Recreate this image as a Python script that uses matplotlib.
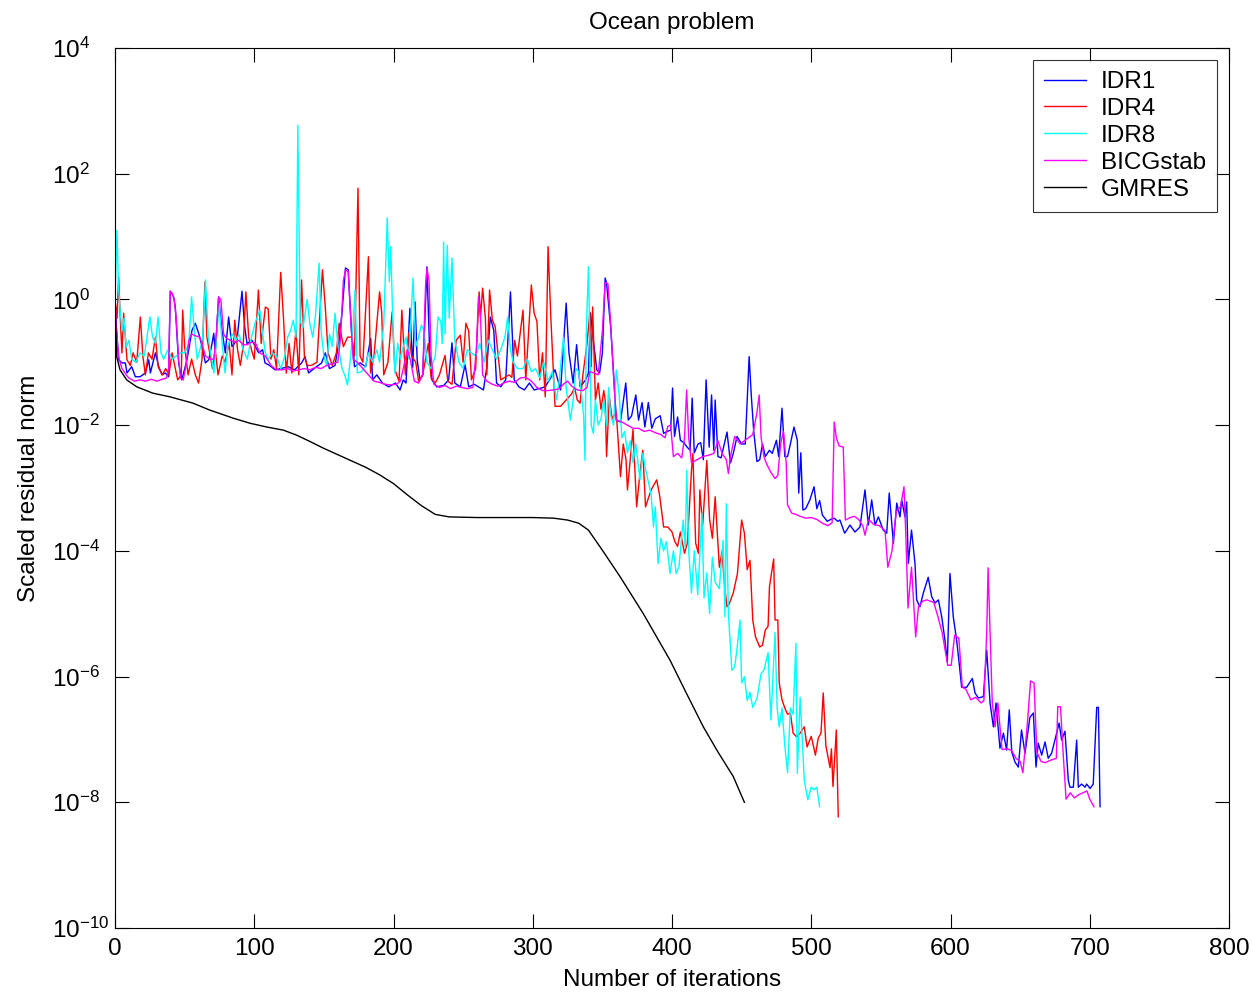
import numpy as np
import matplotlib
matplotlib.use("Agg")
import matplotlib.pyplot as plt

# valori: (iterazione, log10 del residuo scalato)
idr1 = [(0, 0.0), (1, -0.45), (2.6, -0.96), (5, -1.01), (7.4, -1.01), (8.6, -1.17), (12, -1.07), (14.6, -1.23),
        (18, -1.23), (21.8, -1.17), (24.2, -0.96), (25.4, -1.17), (29, -0.85), (31.4, -1.07), (33.8, -1.2),
        (36.1, -1.17), (38.5, -1.23), (39.7, 0.13), (42.1, 0.04), (43.3, -0.12), (45.7, -1.01), (48, -1.28),
        (51.7, -0.96), (55.3, -0.49), (57.7, -0.38), (60.1, -0.54), (62.5, -0.75), (64.9, -1.01), (67.3, -0.96),
        (69.7, -0.7), (70.9, -0.54), (72, -0.85), (74.4, 0.04), (76.8, -0.49), (79.2, -0.85), (81.6, -0.28),
        (84, -0.75), (87.6, -0.65), (91.2, 0.13), (93.1, -0.43), (94.8, -0.7), (98.4, -0.65), (103.2, -0.85),
        (106, -0.8), (107.7, -1.01), (111, -1.05), (115, -1.12), (119, -1.1), (124.4, -1.07), (129, -1.12),
        (134, -1.01), (136.5, -0.91), (139, -1.17), (143, -1.1), (148.4, -1.01), (151, -0.85), (154, -1.1),
        (158, -1.05), (161, -0.65), (163, -0.22), (165.5, 0.5), (167.5, 0.47), (169.8, -0.49), (172, -1.07),
        (176, -1.01), (180, -1.07), (183.6, -0.62), (185, -1.28), (188, -1.2), (192, -1.33), (196.6, -1.39),
        (201.4, -1.33), (204.7, -1.44), (207, -1.28), (209, -1.33), (211.8, -0.14), (213.8, -1.08), (215.5, -0.04),
        (217, -0.96), (219, -1.28), (221, -1.2), (224, 0.52), (226, -0.85), (227.6, -1.28), (231, -1.39),
        (236, -1.37), (239.6, -1.28), (242, -0.69), (244, -1.33), (248, -1.39), (251.4, -1.04), (254, -1.39),
        (258, -1.35), (261, -1.39), (264.6, -1.44), (267, -1.08), (269.5, -0.28), (272, -0.49), (274, -1.33),
        (277, -1.39), (280.6, -1.28), (284, 0.12), (286.7, -1.28), (290, -1.39), (294, -1.44), (297.6, -1.33),
        (301, -1.44), (306, -1.41), (309, -1.39), (312, -1.28), (316, -1.12), (320, -1.44), (324, -0.06),
        (326, -0.85), (329, -1.33), (331.5, -0.72), (334, -1.39), (338, -1.28), (340, -1.17), (341.5, -0.22),
        (343.5, -0.65), (346, -1.12), (348, -1.17), (350, -0.85), (352, 0.34), (353, 0.26), (356, -0.45),
        (358, -1.17), (360, -1.92), (363, -1.95), (366.8, -1.33), (368.6, -1.92), (371, -1.85), (374, -1.52),
        (376, -1.92), (378.5, -1.64), (380.5, -2.03), (383, -1.64), (385.5, -2.05), (388, -1.9), (391.5, -1.85),
        (394, -2.13), (396.5, -2.1), (399, -2.08), (400.4, -1.41), (401.8, -2.18), (404, -1.87), (406, -2.24),
        (408.5, -2.28), (410.9, -2.35), (413, -2.4), (414.5, -1.57), (416, -2.44), (418.7, -2.3), (420.6, -2.28),
        (422.5, -2.55), (424.5, -1.28), (426.7, -2.35), (428.4, -1.52), (430, -2.4), (431, -1.6), (433, -2.5),
        (435.3, -2.52), (439.5, -2.11), (442, -2.6), (444, -2.45), (446.7, -2.18), (450, -2.3), (452.6, -2.3),
        (455.4, -0.91), (457, -1.55), (458.7, -2.1), (461, -2.58), (463, -2.55), (465, -2.3), (467, -2.5),
        (470, -2.4), (472, -2.45), (475, -2.24), (476.6, -2.5), (479, -1.73), (481, -2.5), (483, -2.5),
        (485, -2.3), (487.6, -2.03), (490, -2.24), (491, -3.08), (492.5, -2.44), (494, -3.35), (496, -3.33),
        (499, -3.19), (502, -2.98), (504, -3.33), (506, -3.2), (508, -3.43), (511.5, -3.53), (514, -3.5),
        (516.5, -3.48), (519, -3.53), (520.6, -3.51), (524, -3.72), (527.8, -3.59), (531.4, -3.7), (535, -3.62),
        (538.6, -3.03), (541, -3.59), (543.4, -3.19), (545.8, -3.59), (548.2, -3.46), (551.7, -3.67),
        (554.2, -3.72), (556, -3.08), (559, -3.88), (561.4, -3.24), (563.7, -3.46), (565, -3.19), (567.3, -3.46),
        (568.5, -3.22), (569.7, -4.2), (572, -3.67), (574.5, -4.2), (575.7, -4.78), (578, -4.89), (580.5, -4.67),
        (584, -4.42), (586.5, -4.73), (588.9, -4.83), (591.3, -4.78), (593.7, -5.05), (596, -5.42), (597.7, -5.77),
        (599.6, -4.36), (602, -5.05), (604.4, -5.42), (606, -5.74), (608, -6.17), (611.6, -6.17), (615.7, -6.03),
        (617.6, -6.26), (620, -6.34), (623.6, -6.32), (626, -5.58), (628.4, -6.42), (630.8, -6.8), (632.7, -6.42),
        (634.3, -6.82), (635.5, -7.14), (638, -6.9), (640.3, -7.17), (642.2, -6.53), (644, -7.2), (646.3, -7.36),
        (648.7, -7.44), (651, -6.85), (653.5, -7.22), (657, -6.65), (659.5, -6.58), (661.4, -7.44), (663, -7.06),
        (665.5, -7.25), (667.9, -7.04), (670.2, -7.3), (672.6, -7.22), (675, -7.01), (678, -6.74), (679.8, -7.01),
        (682.2, -6.87), (684.6, -7.65), (685.8, -7.76), (688.2, -7.76), (690.6, -7.01), (691.8, -7.76),
        (694.2, -7.71), (696.6, -7.76), (697.8, -7.71), (700.2, -7.78), (702.5, -7.71), (705, -6.49),
        (706.2, -6.49), (707.4, -8.07)]

idr4 = [(0, 0.0), (1.5, -0.3), (2.6, 0.36), (4, -0.4), (5, -0.85), (6.2, -0.22), (8.6, -0.96), (11, -1.05),
        (13, -0.85), (15.6, -1.0), (18.2, -0.28), (20, -0.9), (21.8, -1.2), (24, -0.85), (26.6, -0.95), (29, -0.6),
        (31, -1.07), (34, -1.2), (36.4, -1.1), (38.7, -1.2), (41, -0.85), (45, -1.28), (47.6, -1.2), (48.6, -0.17),
        (50, -0.75), (52.5, -1.2), (55, -0.95), (57.7, -1.2), (60, -1.33), (62.5, -0.95), (64.6, 0.28), (66, -0.6),
        (68, -0.85), (70, -1.1), (72, -0.8), (74, -1.2), (77, -0.9), (79, -1.0), (82, -0.7), (84, -1.2),
        (86, -0.33), (88, -0.8), (90, -1.05), (92, -0.75), (94, 0.12), (96, -0.6), (98, -0.8), (100, -0.95),
        (103, 0.15), (105, -0.7), (108, -0.12), (110, -0.15), (112, -0.95), (114, -0.8), (116, -1.1), (119, 0.43),
        (121, -0.3), (123, -1.17), (125, -0.7), (127, -1.17), (130, -0.49), (132, -1.2), (134, 0.31), (136, -0.9),
        (138, -1.05), (141, -1.05), (145, -1.0), (149, 0.47), (151, -0.12), (153, -0.85), (156, -1.05),
        (159, -0.85), (161, -0.38), (164, -0.75), (167, -0.6), (170, -0.6), (172, -0.9), (174.5, 1.77),
        (176, -0.9), (178, -1.0), (182, 0.68), (183.5, -1.17), (186, -0.9), (190, 0.12), (191.5, -0.2),
        (193, -1.2), (196, -1.0), (199, -0.2), (201, -1.12), (204, -1.3), (206, -0.17), (208.5, -1.2),
        (211, -0.53), (213, -0.9), (216, -1.0), (218, -1.3), (221, -1.2), (225, -0.7), (227, -1.25), (230, -1.33),
        (233, -1.2), (237, -0.89), (239, -1.3), (242, -1.35), (245, -0.65), (248, -0.57), (250, -1.0),
        (252, -0.38), (254, -0.5), (256, -1.28), (259, -1.1), (261.5, 0.12), (262.5, -0.28), (264, 0.18),
        (266, -0.3), (267, -1.2), (269, 0.15), (271, -0.33), (273, -0.43), (275, -0.85), (277, -1.28),
        (280, -1.24), (283, -1.2), (285, -1.24), (287, -0.65), (289, -0.9), (293, -0.17), (295, -1.28),
        (299, 0.23), (301, -0.22), (303, -0.35), (305, -1.28), (307, -0.85), (309, -1.55), (311, 0.84),
        (313, -0.3), (316, -1.7), (320, -1.7), (324, -1.6), (328, -1.5), (330, -1.4), (332, -1.6), (334, -1.65),
        (336, -1.2), (339, -0.7), (341, -0.2), (342, -1.07), (343, -0.12), (345, -1.6), (347, -1.33),
        (349, -1.75), (351, -1.45), (352, -1.6), (353, -2.5), (355, -1.55), (357, -1.9), (360, -1.8),
        (363, -2.82), (365, -2.3), (367, -2.55), (368, -3.03), (372, -2.07), (374.6, -3.3), (377, -2.76),
        (379, -2.4), (381, -3.3), (385, -3.03), (389, -2.87), (391, -3.1), (394, -3.62), (397, -3.62),
        (400, -3.7), (402, -3.85), (404, -3.93), (406, -3.7), (409, -4.04), (411, -3.88), (414, -2.72),
        (415, -2.45), (417, -3.88), (419, -4.04), (420, -3.03), (422, -3.6), (425, -2.56), (427, -3.5),
        (429, -3.8), (431, -3.14), (434, -4.26), (436, -4.0), (437, -4.35), (438, -4.6), (439.5, -4.89),
        (441, -4.85), (444, -4.67), (447, -4.36), (450, -3.51), (452, -3.72), (454, -4.3), (456, -4.15),
        (458, -5.1), (460, -5.37), (463, -5.53), (465, -5.5), (467, -5.26), (469, -5.2), (470, -4.57),
        (473, -4.13), (474, -5.1), (476, -5.1), (477, -6.1), (479, -6.37), (481, -6.5), (483, -6.6),
        (485, -6.58), (487, -6.9), (489.5, -6.96), (492, -6.9), (495, -6.8), (497, -7.12), (500, -6.95),
        (503, -7.25), (505, -6.98), (507, -6.9), (508.6, -6.26), (510.5, -7.1), (513.5, -7.45), (514.5, -7.15),
        (515.6, -7.75), (518, -6.85), (519.4, -8.23)]

idr8 = [(0, 0.0), (1.4, 1.1), (2.5, 0.2), (3.5, -0.12), (5, -0.5), (6.5, -0.3), (8, -0.76), (10, -0.65),
        (12, -0.95), (15, -1.0), (18, -0.85), (21, -0.9), (23, -0.6), (25, -0.28), (27, -0.6), (29, -0.7),
        (31, -0.28), (33, -0.85), (35, -0.95), (38, -0.8), (41, -0.95), (44, -0.9), (47, -0.85), (50, -0.85),
        (53, -0.7), (55, 0.04), (57, -0.5), (59, -0.95), (61, -0.8), (63, -0.6), (65, 0.31), (67, -0.6),
        (69, -0.9), (71, -1.17), (73, -0.6), (74.7, -0.06), (77, -0.7), (79, -1.17), (81, -0.75), (84, -0.55),
        (87, -0.65), (89, -0.55), (92, -0.8), (95, -0.95), (98, -0.6), (101, -0.35), (104, -0.17), (106, -0.55),
        (108, -0.85), (110, -0.96), (113, -0.85), (116, -0.9), (119, -1.1), (122, -0.9), (124, -0.6),
        (126, -0.5), (128, -0.33), (130, -0.6), (131.3, 2.77), (133, -0.35), (135, -0.45), (138, 0.0),
        (140, -0.4), (142, -0.6), (144, -0.25), (146.6, 0.58), (148, -0.5), (150, -0.9), (152, -1.05),
        (154, -0.55), (156, -0.75), (158, -0.22), (160, -0.7), (163, -1.1), (165, -1.2), (167, -1.36),
        (169, -0.95), (170.5, -0.6), (172.4, 0.15), (174, -1.17), (177, -1.15), (180, -1.05), (182, -0.85),
        (185, -1.0), (188, -0.8), (190, -1.0), (193, -0.4), (195.5, 1.3), (197, 0.28), (198, 0.84),
        (199.5, -0.35), (201, -1.17), (203, -0.7), (205, -0.95), (207, -0.75), (209, -0.6), (211, -0.95),
        (214, 0.34), (216, -0.75), (218, -0.6), (220, -0.41), (222, -0.5), (224, -1.0), (227, -1.1), (230, -0.9),
        (232, -0.28), (234, -0.35), (235, -0.7), (236, 0.91), (237, -0.55), (238.6, 0.86), (240, -0.3),
        (242, 0.66), (244, -0.65), (247, -1.0), (250, -1.1), (253, -0.8), (256, -0.85), (259, -0.9), (262, -0.7),
        (265, -1.0), (268, -0.65), (271, -0.8), (274, -0.95), (277, -0.8), (280, -0.6), (282, -0.28),
        (284, -0.8), (286, -1.0), (289, -1.1), (293, -1.1), (296, -0.95), (299, -1.15), (302, -1.1),
        (305, -1.25), (308, -1.0), (311, -1.3), (314, -1.15), (317, -1.6), (319, -1.3), (322, -0.6), (324, -1.4),
        (327, -1.92), (329, -1.6), (331, -1.1), (333, -1.15), (335, -1.5), (336.5, -1.85), (337.5, -2.56),
        (338.5, -0.5), (340, 0.52), (341, -0.6), (342, -2.0), (343.5, -2.13), (345, -1.6), (347, -2.0),
        (349, -1.9), (351, -1.6), (353, -2.0), (354.5, -1.4), (356, -1.85), (358, -2.0), (360, -1.12),
        (362, -1.5), (364, -2.2), (366, -2.1), (368, -2.44), (370, -2.25), (372, -2.6), (374, -2.3),
        (377, -2.87), (379, -2.45), (381, -2.7), (383, -2.9), (385, -3.1), (386.7, -3.62), (388, -3.3),
        (390, -4.2), (392, -3.8), (394, -4.0), (396, -3.85), (398.6, -4.36), (401, -4.0), (403, -4.36),
        (405, -4.25), (408, -3.51), (409.5, -3.95), (410.6, -2.72), (412, -4.0), (414, -4.67), (416, -4.0),
        (418.5, -4.7), (421.5, -3.4), (423, -4.75), (425, -4.35), (427, -5.0), (429, -4.1), (431, -4.5),
        (434, -4.6), (436.7, -3.83), (438, -5.05), (439, -3.25), (440.5, -5.0), (443, -5.9), (445, -5.85),
        (447, -5.5), (448.8, -5.1), (450, -6.1), (452, -6.0), (454, -6.38), (456, -6.25), (458, -6.49),
        (461, -6.35), (464, -5.95), (466, -5.9), (469, -5.62), (471, -6.69), (474, -5.3), (475.5, -6.5),
        (477, -6.8), (479, -6.5), (481, -7.1), (483, -7.53), (485, -6.5), (487, -6.6), (489, -5.47),
        (490, -7.54), (492, -6.33), (495, -7.65), (497.5, -7.96), (500, -7.76), (502, -7.8), (504, -7.76),
        (506, -8.07)]

bicgstab = [(0, 0.0), (1, -0.45), (2, -0.75), (3, -0.95), (5, -1.1), (8, -1.2), (10, -1.25), (14, -1.3),
            (18, -1.28), (22, -1.3), (26, -1.27), (30, -1.3), (34, -1.27), (37, -1.25), (38.5, -1.1), (39.7, 0.13),
            (41, 0.1), (42.5, 0.0), (44, -0.3), (45.5, -0.9), (47, -1.25), (49, -1.28), (51, -1.05), (53, -0.65),
            (55, -0.55), (58, -0.58), (61, -0.6), (63, -0.75), (65, -0.9), (68, -0.95), (71, -0.95), (73, -0.5),
            (74.4, 0.04), (76, 0.0), (78, -0.55), (80, -0.62), (83, -0.65), (86, -0.68), (89, -0.65), (92, -0.72),
            (95, -0.72), (98, -0.68), (101, -0.7), (104, -0.85), (108, -0.9), (112, -1.05), (116, -1.12),
            (120, -1.12), (124, -1.1), (128, -1.14), (132, -1.12), (136, -1.1), (140, -1.12), (144, -1.08),
            (148, -1.1), (152, -1.05), (156, -1.02), (160, -1.0), (162, -0.6), (164, 0.3), (165.5, 0.47),
            (167.5, 0.44), (169, -0.2), (171, -0.95), (174, -1.0), (178, -1.1), (182, -1.2), (186, -1.3),
            (190, -1.32), (194, -1.35), (198, -1.36), (202, -1.35), (205, -1.3), (208, -1.0), (210, -0.8),
            (212, -0.95), (215, -1.3), (218, -1.33), (221, -1.2), (223, 0.2), (224, 0.5), (225.5, 0.3),
            (227, -0.9), (229, -1.35), (233, -1.4), (237, -1.37), (241, -1.42), (245, -1.38), (249, -1.4),
            (253, -1.42), (257, -1.4), (259.5, -0.8), (261, 0.04), (262.5, -0.3), (264, -1.2), (267, -1.3),
            (271, -1.35), (275, -1.38), (279, -1.33), (283, -1.3), (287, -1.32), (291, -1.25), (295, -1.24),
            (299, -1.3), (303, -1.4), (307, -1.45), (311, -1.45), (315, -1.44), (319, -1.42), (322, -1.35),
            (325, -1.3), (328, -1.38), (332, -1.44), (336, -1.45), (339, -1.4), (341, -1.15), (344, -1.17),
            (347, -1.2), (350, -0.5), (352, 0.27), (354, 0.25), (356, -0.4), (358, -1.2), (360, -1.92),
            (364, -1.95), (368, -2.0), (372, -2.05), (376, -2.05), (380, -2.1), (384, -2.08), (388, -2.12),
            (392, -2.15), (395, -2.2), (397, -2.02), (399, -2.0), (401, -2.5), (404, -2.45), (407, -2.52),
            (409, -2.2), (410.5, -1.44), (412, -2.2), (414, -2.6), (418, -2.55), (422, -2.5), (426, -2.48),
            (430, -2.45), (433, -2.25), (436, -2.45), (439, -2.55), (440.5, -2.77), (442, -2.5), (445, -2.18),
            (449, -2.3), (452, -2.25), (455, -2.2), (458, -2.15), (461, -1.8), (462.6, -1.52), (464, -2.2),
            (466, -2.5), (468, -2.62), (471, -2.75), (474, -2.85), (476, -2.8), (478, -2.3), (480, -2.1),
            (482, -2.6), (483, -3.27), (486, -3.4), (489, -3.42), (492, -3.45), (496, -3.48), (500, -3.47),
            (504, -3.5), (508, -3.56), (512, -3.6), (515, -3.55), (516.5, -1.95), (518, -2.2), (520, -2.33),
            (523, -2.35), (524.5, -3.51), (528, -3.47), (531, -3.45), (534, -3.5), (537, -3.6), (538.6, -3.75),
            (541, -3.5), (545, -3.58), (549, -3.6), (553, -3.68), (555, -4.26), (558, -4.0), (561, -3.38),
            (564, -3.3), (566.6, -2.98), (568, -3.8), (569.5, -4.91), (572, -4.26), (575, -5.37), (577, -4.89),
            (580, -4.8), (583, -4.78), (588, -4.82), (591, -5.05), (594, -5.3), (598, -5.82), (600.5, -5.82),
            (603, -5.34), (606, -5.39), (608.5, -6.17), (611, -6.2), (614.6, -6.37), (618, -6.33), (622, -6.42),
            (624, -6.38), (626, -5.3), (627, -4.27), (629, -5.74), (630, -6.42), (632, -6.8), (634, -6.42),
            (637, -7.16), (641, -7.15), (644, -7.18), (647, -7.3), (650, -7.35), (652, -7.53), (655, -6.8),
            (657.5, -6.07), (660, -6.1), (662, -7.2), (665, -7.35), (668, -7.37), (672, -7.33), (676, -7.3),
            (677, -6.48), (679, -6.48), (681, -7.26), (683, -7.95), (686, -7.85), (689, -7.93), (692, -7.88),
            (695, -7.85), (698, -7.82), (700, -7.95), (703, -8.07)]

gmres = [(0, 0.0), (1.2, -0.91), (3.6, -1.12), (8.4, -1.28), (15.6, -1.39), (27, -1.49), (39.5, -1.55),
         (56, -1.65), (68, -1.76), (85, -1.89), (97, -1.97), (109, -2.03), (121, -2.08), (130.5, -2.16),
         (140, -2.26), (150, -2.37), (160, -2.47), (170, -2.57), (180, -2.67), (190, -2.79), (200, -2.93),
         (210, -3.11), (220, -3.28), (230, -3.42), (240, -3.46), (260, -3.47), (280, -3.47), (300, -3.47),
         (315, -3.48), (325, -3.51), (333, -3.56), (340, -3.67), (350, -3.99), (362.7, -4.41), (379.4, -5.0),
         (398.6, -5.74), (410, -6.25), (422.5, -6.8), (433, -7.2), (444, -7.59), (451, -7.95), (452, -8.0)]

series = [("IDR1", idr1, "#0000ff"),
          ("IDR4", idr4, "#ff0000"),
          ("IDR8", idr8, "#00ffff"),
          ("BICGstab", bicgstab, "#ff00ff"),
          ("GMRES", gmres, "#000000")]

FS = 17.5

plt.rcParams["font.family"] = ["Liberation Sans", "DejaVu Sans"]
plt.rcParams["mathtext.default"] = "regular"
plt.rcParams["axes.unicode_minus"] = True

fig = plt.figure(figsize=(12.53, 9.92), dpi=100)
ax = fig.add_axes([115 / 1253, 1 - 928 / 992, (1229 - 115) / 1253, (928 - 48) / 992])

for name, pts, col in series:
    arr = np.array(pts, dtype=float)
    ax.plot(arr[:, 0], 10 ** arr[:, 1], color=col, lw=1.0, label=name)

ax.set_yscale("log")
ax.set_xlim(0, 800)
ax.set_ylim(1e-10, 1e4)
ax.set_xticks(np.arange(0, 801, 100))
ax.set_yticks([10.0 ** k for k in range(-10, 5, 2)])
ax.minorticks_off()
ax.tick_params(direction="in", length=10, width=0.8, top=True, right=True, labelsize=FS)
ax.tick_params(axis="x", pad=7)
# come in MATLAB: la base "10" allineata a sinistra, l'esponente sporge
ax.tick_params(axis="y", pad=45)
for lbl in ax.get_yticklabels():
    lbl.set_horizontalalignment("left")
for s in ax.spines.values():
    s.set_linewidth(0.8)

ax.set_title("Ocean problem", fontsize=FS, pad=14)
ax.set_xlabel("Number of iterations", fontsize=FS, labelpad=7)
ax.set_ylabel("Scaled residual norm", fontsize=FS, labelpad=9)

leg = ax.legend(loc="upper right", fontsize=FS, frameon=True, fancybox=False,
                edgecolor="black", borderaxespad=0.5, handlelength=1.75,
                labelspacing=0.2, borderpad=0.45, handletextpad=0.6)
leg.get_frame().set_linewidth(0.8)

fig.savefig("out.png", dpi=100)
